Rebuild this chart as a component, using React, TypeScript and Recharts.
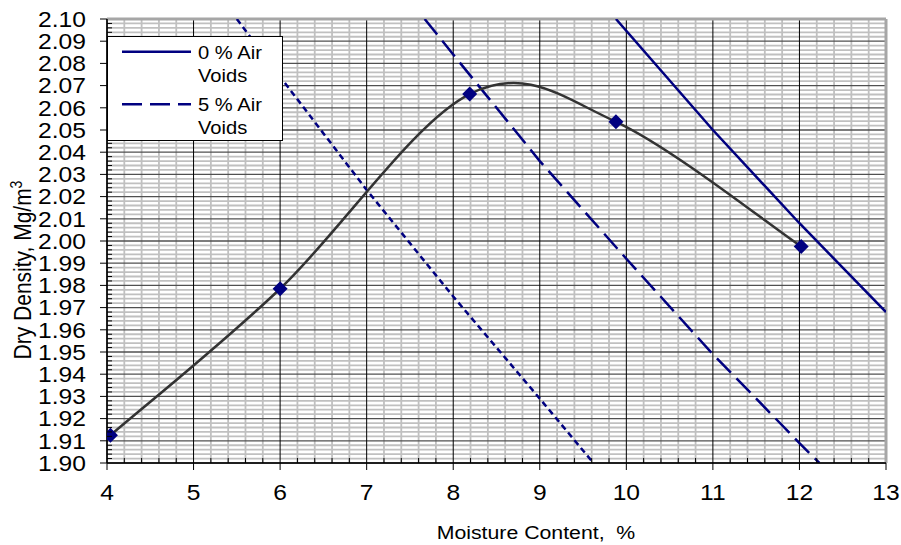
import React from "react";
import { CartesianGrid, Legend, Line, LineChart, XAxis, YAxis } from "recharts";

// compaction test points
const moisture = [4.04, 6.0, 8.19, 9.88, 12.02];
const dryDensity = [1.9125, 1.9785, 2.0662, 2.0537, 1.9975];

// air voids lines
const zeroVoidsW = [9.88, 11, 12, 13];
const zeroVoidsRho = [2.1, 2.05, 2.008, 1.968];
const fiveVoidsW = [7.67, 8, 9, 10, 11, 12, 12.23];
const fiveVoidsRho = [2.1, 2.084, 2.036, 1.992, 1.949, 1.909, 1.9];
const tenVoidsW = [5.5, 6, 7, 8, 9, 9.62];
const tenVoidsRho = [2.1, 2.074, 2.023, 1.975, 1.929, 1.9];

const xMajorTicks = [4, 5, 6, 7, 8, 9, 10, 11, 12, 13];
const yMajorTicks = [
  1.9, 1.91, 1.92, 1.93, 1.94, 1.95, 1.96, 1.97, 1.98, 1.99, 2.0,
  2.01, 2.02, 2.03, 2.04, 2.05, 2.06, 2.07, 2.08, 2.09, 2.1,
];

const legendDash: Record<string, string | undefined> = {
  "0 % Air Voids": undefined,
  "5 % Air Voids": "20 8",
};

const toPoints = (xs: number[], ys: number[]) => xs.map((x, i) => ({ x, y: ys[i] }));

// 4 minor steps between each pair of majors
function subdivide(majors: number[], digits: number) {
  const f = Math.pow(10, digits);
  const out: number[] = [];
  for (let i = 0; i < majors.length - 1; i++) {
    const step = (majors[i + 1] - majors[i]) / 5;
    for (let k = 1; k < 5; k++) out.push(Math.round((majors[i] + k * step) * f) / f);
  }
  return out;
}

const xMinor = subdivide(xMajorTicks, 3);
const yMinor = subdivide(yMajorTicks, 4);
const xAllTicks = [...xMajorTicks, ...xMinor].sort((a, b) => a - b);
const yAllTicks = [...yMajorTicks, ...yMinor].sort((a, b) => a - b);

// the chart fills the whole window
if (typeof document !== "undefined") document.body.style.margin = "0";

const W = 901;
const H = 545;
const PLOT_L = 107;
const PLOT_B = 463;
const FONT = "'Liberation Sans', Arial, sans-serif";

// excel style smoothed line
function excelSmooth(context: any) {
  let pts: number[][] = [];
  return {
    areaStart() {},
    areaEnd() {},
    lineStart() {
      pts = [];
    },
    point(x: number, y: number) {
      pts.push([+x, +y]);
    },
    lineEnd() {
      if (!pts.length) return;
      context.moveTo(pts[0][0], pts[0][1]);
      for (let i = 0; i < pts.length - 1; i++) {
        const p0 = pts[Math.max(i - 1, 0)];
        const p1 = pts[i];
        const p2 = pts[i + 1];
        const p3 = pts[Math.min(i + 2, pts.length - 1)];
        context.bezierCurveTo(
          p1[0] + (p2[0] - p0[0]) / 6,
          p1[1] + (p2[1] - p0[1]) / 6,
          p2[0] - (p3[0] - p1[0]) / 6,
          p2[1] - (p3[1] - p1[1]) / 6,
          p2[0],
          p2[1]
        );
      }
    },
  };
}

const isMajor = (v: number, step: number) => {
  const r = v / step;
  return Math.abs(r - Math.round(r)) < 1e-6;
};

function XTick(props: any) {
  const v = props.payload.value;
  const x = props.payload.coordinate ?? props.x;
  if (!isMajor(v, 1)) {
    return <line x1={x} x2={x} y1={PLOT_B} y2={PLOT_B - 5} stroke="#000" strokeWidth={1} />;
  }
  return (
    <g>
      <line x1={x} x2={x} y1={PLOT_B} y2={PLOT_B + 7} stroke="#000" strokeWidth={1} />
      <text
        transform={`translate(${x},${PLOT_B + 37}) scale(1.12,1)`}
        textAnchor="middle"
        fontSize={22}
        fontFamily={FONT}
        fill="#000"
      >
        {v}
      </text>
    </g>
  );
}

function YTick(props: any) {
  const v = props.payload.value;
  const y = props.payload.coordinate ?? props.y;
  if (!isMajor(v, 0.01)) {
    return <line x1={PLOT_L} x2={PLOT_L + 5} y1={y} y2={y} stroke="#000" strokeWidth={1} />;
  }
  return (
    <g>
      <line x1={PLOT_L - 7} x2={PLOT_L} y1={y} y2={y} stroke="#000" strokeWidth={1} />
      <text
        transform={`translate(${PLOT_L - 21},${y}) scale(1.12,1)`}
        textAnchor="end"
        dy="0.355em"
        fontSize={22}
        fontFamily={FONT}
        fill="#000"
      >
        {v.toFixed(2)}
      </text>
    </g>
  );
}

function XTitle() {
  return (
    <text
      transform="translate(536,539) scale(1.12,1)"
      textAnchor="middle"
      fontSize={19}
      fontFamily={FONT}
      fill="#000"
      style={{ whiteSpace: "pre" }}
    >
      Moisture Content,  %
    </text>
  );
}

function YTitle() {
  return (
    <text
      transform="translate(31,270) scale(1.12,1) rotate(-90)"
      textAnchor="middle"
      fontSize={21}
      fontFamily={FONT}
      fill="#000"
    >
      Dry Density, Mg/m
      <tspan fontSize={14} dy={-8}>
        3
      </tspan>
    </text>
  );
}

function AirVoidsLegend(props: any) {
  const items = (props.payload ?? []).filter((p: any) => p.type !== "none");
  return (
    <svg width={176} height={105} style={{ display: "block" }}>
      <rect x={0.5} y={0.5} width={175} height={104} fill="#fff" stroke="#000" />
      {items.map((item: any, i: number) => {
        const top = i * 52.6;
        const name = String(item.value);
        const cut = name.lastIndexOf(" ");
        return (
          <g key={name}>
            <line
              x1={15}
              x2={84}
              y1={top + 15.7}
              y2={top + 15.7}
              stroke={item.color}
              strokeWidth={2.5}
              strokeDasharray={legendDash[name]}
            />
            <text transform={`translate(91,${top + 22.5}) scale(1.12,1)`} fontSize={18} fontFamily={FONT} fill="#000">
              {name.slice(0, cut)}
            </text>
            <text transform={`translate(91,${top + 45.5}) scale(1.12,1)`} fontSize={18} fontFamily={FONT} fill="#000">
              {name.slice(cut + 1)}
            </text>
          </g>
        );
      })}
    </svg>
  );
}

function Diamond(props: any) {
  const { cx, cy, index } = props;
  if (cx == null || cy == null) return <g key={index} />;
  const r = 7.5;
  return (
    <polygon
      key={index}
      points={`${cx},${cy - r} ${cx + r},${cy} ${cx},${cy + r} ${cx - r},${cy}`}
      fill="#000080"
    />
  );
}

export default function App() {
  return (
    <div style={{ width: W, height: H, fontFamily: FONT, background: "#fff" }}>
      <LineChart width={W} height={H} margin={{ top: 19, right: 15, bottom: 0, left: 0 }}>
        <CartesianGrid horizontalValues={yMinor} verticalValues={xMinor} stroke="#c0c0c0" strokeWidth={1.8} />
        <CartesianGrid horizontalValues={yMajorTicks} vertical={false} stroke="#505050" strokeWidth={1.3} />
        <CartesianGrid verticalValues={xMajorTicks} horizontal={false} stroke="#000" strokeWidth={1} />
        <CartesianGrid horizontalValues={[2.1]} verticalValues={[13]} stroke="#a6a6a6" strokeWidth={3} />
        <XAxis
          type="number"
          dataKey="x"
          domain={[4, 13]}
          ticks={xAllTicks}
          interval={0}
          allowDataOverflow
          tick={<XTick />}
          tickLine={false}
          axisLine={{ stroke: "#000", strokeWidth: 1.5 }}
          height={82}
          label={<XTitle />}
        />
        <YAxis
          type="number"
          domain={[1.9, 2.1]}
          ticks={yAllTicks}
          interval={0}
          allowDataOverflow
          tick={<YTick />}
          tickLine={false}
          axisLine={{ stroke: "#000", strokeWidth: 1.5 }}
          width={107}
          label={<YTitle />}
        />
        <Legend
          content={<AirVoidsLegend />}
          layout="vertical"
          align="center"
          verticalAlign="middle"
          wrapperStyle={{ left: 107, top: 36, width: 176, height: 105 }}
        />
        <Line
          data={toPoints(zeroVoidsW, zeroVoidsRho)}
          dataKey="y"
          name="0 % Air Voids"
          type="linear"
          stroke="#000080"
          strokeWidth={2.5}
          dot={false}
          isAnimationActive={false}
        />
        <Line
          data={toPoints(fiveVoidsW, fiveVoidsRho)}
          dataKey="y"
          name="5 % Air Voids"
          type="linear"
          stroke="#000080"
          strokeWidth={2.5}
          strokeDasharray="20 8"
          dot={false}
          isAnimationActive={false}
        />
        <Line
          data={toPoints(tenVoidsW, tenVoidsRho)}
          dataKey="y"
          name="10 % Air Voids"
          type="linear"
          stroke="#000080"
          strokeWidth={2.5}
          strokeDasharray="6 4"
          dot={false}
          legendType="none"
          isAnimationActive={false}
        />
        <Line
          data={toPoints(moisture, dryDensity)}
          dataKey="y"
          name="Dry density"
          type={excelSmooth as any}
          stroke="#333333"
          strokeWidth={2.5}
          dot={<Diamond />}
          legendType="none"
          isAnimationActive={false}
        />
      </LineChart>
    </div>
  );
}
